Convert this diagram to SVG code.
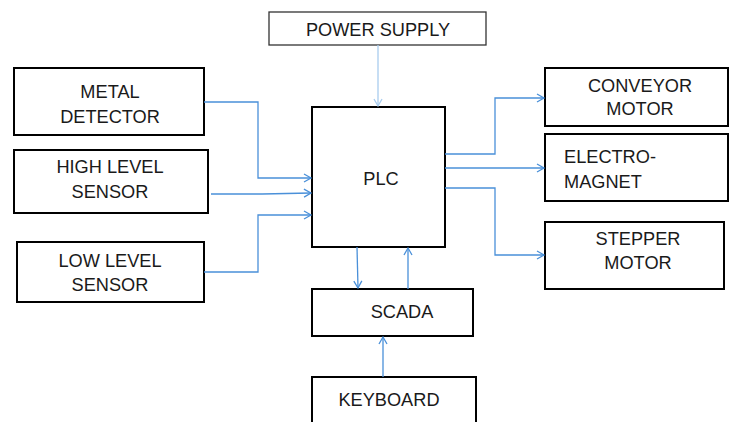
<svg xmlns="http://www.w3.org/2000/svg" width="733" height="422" viewBox="0 0 733 422">
<defs>
<marker id="ah" markerWidth="10" markerHeight="10" refX="8" refY="5" orient="auto" markerUnits="userSpaceOnUse">
<path d="M1,1 L8,5 L1,9" fill="none" stroke="#4a90d9" stroke-width="1.3"/>
</marker>
<marker id="ahl" markerWidth="10" markerHeight="10" refX="8" refY="5" orient="auto" markerUnits="userSpaceOnUse">
<path d="M1,1 L8,5 L1,9" fill="none" stroke="#a9cdef" stroke-width="1.3"/>
</marker>
<style>
.box{fill:#fff;stroke:#000;stroke-width:2}
.thin{fill:#fff;stroke:#333;stroke-width:1.3}
.t{font-family:"Liberation Sans",Arial,sans-serif;font-size:18.2px;fill:#1a1a1a;text-anchor:middle}
.tl{font-family:"Liberation Sans",Arial,sans-serif;font-size:18.2px;fill:#1a1a1a;text-anchor:start}
.c{fill:none;stroke:#4a90d9;stroke-width:1.3;marker-end:url(#ah)}
.cl{fill:none;stroke:#a9cdef;stroke-width:1.3;marker-end:url(#ahl)}
</style>
</defs>
<g id="power-supply"><rect class="thin" x="269" y="12" width="217" height="33"/><text class="t" x="378" y="36">POWER SUPPLY</text></g>
<g id="metal-detector"><rect class="box" x="14" y="68" width="190" height="67"/><text class="t" x="110" y="98">METAL</text><text class="t" x="110" y="123">DETECTOR</text></g>
<g id="high-level-sensor"><rect class="box" x="14" y="150" width="194" height="63"/><text class="t" x="110" y="173">HIGH LEVEL</text><text class="t" x="110" y="198">SENSOR</text></g>
<g id="low-level-sensor"><rect class="box" x="17" y="242" width="187" height="60"/><text class="t" x="110" y="267">LOW LEVEL</text><text class="t" x="110" y="291">SENSOR</text></g>
<g id="plc"><rect class="box" x="312" y="107" width="133" height="140"/><text class="t" x="381" y="185">PLC</text></g>
<g id="scada"><rect class="box" x="312" y="289" width="161" height="47"/><text class="t" x="402" y="318">SCADA</text></g>
<g id="keyboard"><rect class="box" x="312" y="377" width="164" height="60"/><text class="t" x="389" y="406">KEYBOARD</text></g>
<g id="conveyor-motor"><rect class="box" x="545" y="68" width="183" height="58"/><text class="t" x="640" y="92">CONVEYOR</text><text class="t" x="640" y="115">MOTOR</text></g>
<g id="electro-magnet"><rect class="box" x="545" y="134" width="183" height="67"/><text class="tl" x="564" y="163">ELECTRO-</text><text class="tl" x="564" y="188">MAGNET</text></g>
<g id="stepper-motor"><rect class="box" x="545" y="222" width="179" height="67"/><text class="t" x="638" y="245">STEPPER</text><text class="t" x="638" y="269">MOTOR</text></g>
<g id="connectors">
<path class="cl" d="M378,45 L378,106"/>
<path class="c" d="M204,102 L258,102 L258,178 L311,178"/>
<path class="c" d="M211,194 L262,194 L311,193"/>
<path class="c" d="M204,272 L258,272 L258,215 L311,215"/>
<path class="c" d="M357,247 L358,288"/>
<path class="c" d="M408,289 L408,248"/>
<path class="c" d="M383,377 L383,337"/>
<path class="c" d="M445,154 L495,154 L495,98 L544,98"/>
<path class="c" d="M445,168 L544,168"/>
<path class="c" d="M445,188 L495,188 L495,255 L544,255"/>
</g>
</svg>
